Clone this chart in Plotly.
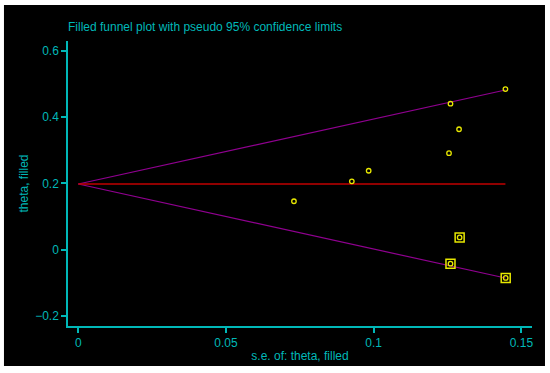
import plotly.graph_objects as go

# Data
theta_pooled = 0.198
se_obs = [0.0730, 0.0926, 0.0983, 0.1255, 0.1260, 0.1289, 0.1446]
theta_obs = [0.146, 0.206, 0.238, 0.291, 0.440, 0.363, 0.484]
se_fill = [0.1260, 0.1291, 0.1447]
theta_fill = [-0.042, 0.037, -0.085]
se_line = [0.0, 0.1446]
x_ticks = [0, 0.05, 0.1, 0.15]
x_tick_labels = ["0", "0.05", "0.1", "0.15"]
y_ticks = [-0.2, 0, 0.2, 0.4, 0.6]
y_tick_labels = ["\u22120.2", "0", "0.2", "0.4", "0.6"]

upper = [theta_pooled + 1.96 * s for s in se_line]
lower = [theta_pooled - 1.96 * s for s in se_line]

cyan = "#00b8b8"
purple = "#900090"
red = "#c00000"
yellow = "#e8e800"

fig = go.Figure()
fig.add_trace(go.Scatter(x=se_line, y=upper, mode="lines",
                         line=dict(color=purple, width=1.2), hoverinfo="skip"))
fig.add_trace(go.Scatter(x=se_line, y=lower, mode="lines",
                         line=dict(color=purple, width=1.2), hoverinfo="skip"))
fig.add_trace(go.Scatter(x=se_line, y=[theta_pooled] * len(se_line), mode="lines",
                         line=dict(color=red, width=1.6), hoverinfo="skip"))
fig.add_trace(go.Scatter(x=se_fill, y=theta_fill, mode="markers",
                         marker=dict(symbol="square-open", size=9, color=yellow,
                                     line=dict(width=1.5, color=yellow))))
fig.add_trace(go.Scatter(x=se_obs + se_fill, y=theta_obs + theta_fill, mode="markers",
                         marker=dict(symbol="circle-open", size=4.5, color=yellow,
                                     line=dict(width=1.3, color=yellow))))

fig.add_shape(type="rect", xref="paper", yref="paper",
              x0=-0.138, x1=1.028, y0=-0.140, y1=1.126,
              fillcolor="black", line=dict(width=0), layer="below")

axis_common = dict(showgrid=False, zeroline=False, showline=True, linecolor=cyan,
                   linewidth=1.5, ticks="outside", tickcolor=cyan, ticklen=5,
                   tickwidth=1.5, tickfont=dict(color=cyan, size=12))

fig.update_layout(
    width=550, height=373,
    margin=dict(l=68, r=18, t=41, b=47),
    paper_bgcolor="white", plot_bgcolor="black",
    showlegend=False,
    font=dict(family="Liberation Sans, Arial, sans-serif", color=cyan, size=12),
    title=dict(text="Filled funnel plot with pseudo 95% confidence limits",
               x=68 / 550, xanchor="left", y=1 - 27 / 373, yanchor="middle",
               font=dict(size=12, color=cyan)),
    xaxis=dict(range=[-0.0035, 0.1536], tickvals=x_ticks, ticktext=x_tick_labels,
               title=dict(text="s.e. of: theta, filled", standoff=2,
                          font=dict(size=12, color=cyan)),
               **axis_common),
    yaxis=dict(range=[-0.23, 0.629], tickvals=y_ticks, ticktext=y_tick_labels,
               title=dict(text="theta, filled", standoff=4,
                          font=dict(size=12, color=cyan)),
               **axis_common),
)

fig.write_html("out.html", config={"displayModeBar": False},
               post_script="document.body.style.margin='0';")
